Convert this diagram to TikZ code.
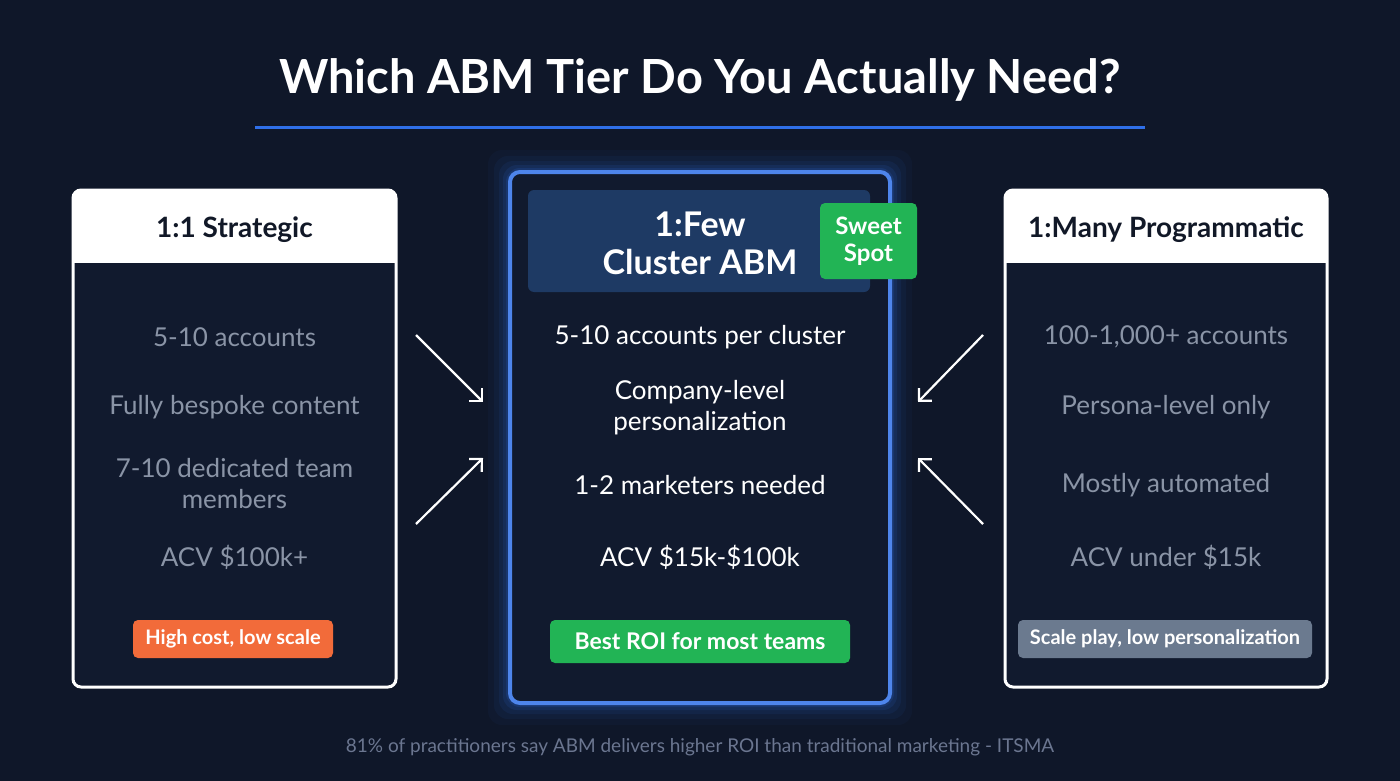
\documentclass[tikz,border=0pt]{standalone}
\usepackage{fontspec}
\setmainfont{Lato}
\usetikzlibrary{positioning,arrows.meta}
\definecolor{bgdark}{HTML}{0F1729}
\definecolor{cardfill}{HTML}{111A2E}
\definecolor{hdrblue}{HTML}{1E3A64}
\definecolor{accent}{HTML}{2F6FE8}
\definecolor{itemgray}{HTML}{8A94A6}
\definecolor{inkdark}{HTML}{111827}
\definecolor{tagorange}{HTML}{F26B3A}
\definecolor{taggreen}{HTML}{22B455}
\definecolor{taggray}{HTML}{6B7A8F}
\definecolor{footgray}{HTML}{6B7690}
\newcommand{\fs}[1]{\fontsize{#1}{\the\numexpr#1*6/5\relax}\selectfont}
\tikzset{
  side card/.style={draw=white,line width=3pt,fill=cardfill,rounded corners=8pt},
  item/.style={text=itemgray,font=\fs{26},align=center},
  mid item/.style={text=white,font=\fs{26},align=center},
  tag/.style={rounded corners=5pt,text=white,font=\bfseries\fs{20},inner xsep=10pt,minimum height=38pt},
  flow/.style={draw=white,line width=2.2pt,-{Straight Barb[length=9pt,width=18pt]}}
}
\begin{document}
\begin{tikzpicture}[x=1pt,y=-1pt]
  \fill[bgdark] (0,0) rectangle (1400,781);
  \useasboundingbox (0,0) rectangle (1400,781);
  % title
  \node[text=white,font=\bfseries\fs{47}] (title) at (700,80) {Which ABM Tier Do You Actually Need?};
  \coordinate (ruleL) at (255,128);
  \coordinate (ruleR) at (1145,128);
  \draw[accent,line width=3pt] (ruleL) -- (ruleR);

  % left card
  \draw[side card] (73,190) rectangle (396,687);
  \fill[white,rounded corners=7pt] (73,190) rectangle (396,230);
  \fill[white] (73,215) rectangle (396,263);
  \node[text=inkdark,font=\bfseries\fs{28}] (lhead) at (234.5,230) {1:1 Strategic};
  \node[item] (l1) at (234.5,337) {5-10 accounts};
  \node[item] (l2) at (234.5,407) {Fully bespoke content};
  \node[item] (l3) at (234.5,484) {7-10 dedicated team\\members};
  \node[item] (l4) at (234.5,557) {ACV \$100k+};
  \node[tag,fill=tagorange,minimum width=200pt] (ltag) at (233,639) {High cost, low scale};

  % right card
  \draw[side card] (1005,190) rectangle (1327,687);
  \fill[white,rounded corners=7pt] (1005,190) rectangle (1327,230);
  \fill[white] (1005,215) rectangle (1327,263);
  \node[text=inkdark,font=\bfseries\fs{28}] (rhead) at (1166,230) {1:Many Programmatic};
  \node[item] (r1) at (1166,337) {100-1,000+ accounts};
  \node[item] (r2) at (1166,407) {Persona-level only};
  \node[item] (r3) at (1166,485) {Mostly automated};
  \node[item] (r4) at (1166,557) {ACV under \$15k};
  \node[tag,fill=taggray,minimum width=294pt] (rtag) at (1165,639) {Scale play, low personalization};

  % centre card with glow
  \foreach \g/\o in {22/0.04,16/0.06,11/0.08,7/0.11,4/0.15}
    \fill[accent,opacity=\o,rounded corners=14pt] (510-\g,172-\g) rectangle (890+\g,703+\g);
  \draw[draw=accent!85!white,line width=4pt,fill=cardfill,rounded corners=10pt] (510,172) rectangle (890,703);
  \fill[hdrblue,rounded corners=6pt] (528,190) rectangle (870,292);
  \node[text=white,font=\bfseries\fs{34},align=center] (mhead) at (700,243) {1:Few\\[-3pt]Cluster ABM};
  \node[tag,fill=taggreen,font=\bfseries\fs{24},align=center,minimum width=97pt,minimum height=76pt,inner xsep=4pt] (sweet) at (868.5,241) {Sweet\\[-2pt]Spot};
  \node[mid item] (m1) at (700,337) {5-10 accounts per cluster};
  \node[mid item] (m2) at (700,408) {Company-level\\personalization};
  \node[mid item] (m3) at (700,485) {1-2 marketers needed};
  \node[mid item] (m4) at (700,557) {ACV \$15k-\$100k};
  \node[tag,fill=taggreen,font=\bfseries\fs{23},minimum width=300pt,minimum height=43pt] (mtag) at (700,641.5) {Best ROI for most teams};

  % arrows toward the middle
  \coordinate (a1s) at (416,335); \coordinate (a1e) at (483,402);
  \coordinate (a2s) at (416,524); \coordinate (a2e) at (483,458);
  \coordinate (a3s) at (983,335); \coordinate (a3e) at (918,402);
  \coordinate (a4s) at (983,524); \coordinate (a4e) at (918,458);
  \draw[flow] (a1s) -- (a1e);
  \draw[flow] (a2s) -- (a2e);
  \draw[flow] (a3s) -- (a3e);
  \draw[flow] (a4s) -- (a4e);

  % footer
  \node[text=footgray,font=\fs{19}] (foot) at (700,747) {81\% of practitioners say ABM delivers higher ROI than traditional marketing - ITSMA};
\end{tikzpicture}
\end{document}
